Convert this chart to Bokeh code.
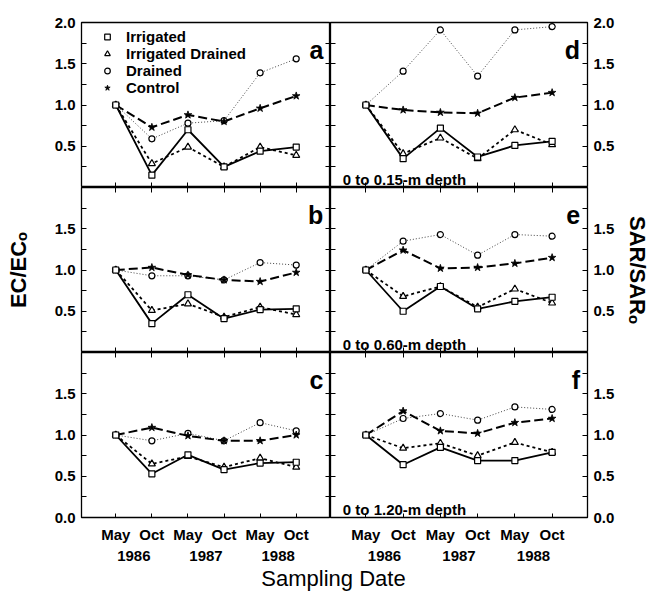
from bokeh.plotting import figure
from bokeh.layouts import gridplot, column
from bokeh.models import LinearAxis, FixedTicker, Range1d, Label, Legend, LegendItem
from bokeh.embed import file_html
from bokeh.resources import INLINE

FONT = "Liberation Sans"

# ---- data -------------------------------------------------------------
months = ["May", "Oct", "May", "Oct", "May", "Oct"]
years = ["1986", "1987", "1988"]
series = ["Irrigated", "Irrigated Drained", "Drained", "Control"]
y_ticks_top = [0.5, 1.0, 1.5, 2.0]
y_ticks_mid = [0.5, 1.0, 1.5]
y_ticks_bot = [0.0, 0.5, 1.0, 1.5]
y_minor = [0.25, 0.75, 1.25, 1.75]

# EC/ECo, 0-0.15 m (a)
a_irrigated = [1.0, 0.15, 0.70, 0.25, 0.44, 0.49]
a_irr_drained = [1.0, 0.29, 0.49, 0.25, 0.49, 0.39]
a_drained = [1.0, 0.59, 0.78, 0.81, 1.39, 1.56]
a_control = [1.0, 0.73, 0.88, 0.80, 0.96, 1.11]
# EC/ECo, 0-0.60 m (b)
b_irrigated = [1.0, 0.35, 0.70, 0.41, 0.52, 0.53]
b_irr_drained = [1.0, 0.51, 0.59, 0.43, 0.55, 0.46]
b_drained = [1.0, 0.93, 0.93, 0.88, 1.09, 1.06]
b_control = [1.0, 1.03, 0.94, 0.88, 0.86, 0.97]
# EC/ECo, 0-1.20 m (c)
c_irrigated = [1.0, 0.53, 0.76, 0.58, 0.66, 0.67]
c_irr_drained = [1.0, 0.65, 0.74, 0.61, 0.72, 0.61]
c_drained = [1.0, 0.93, 1.02, 0.93, 1.15, 1.05]
c_control = [1.0, 1.09, 0.99, 0.93, 0.93, 1.00]
# SAR/SARo, 0-0.15 m (d)
d_irrigated = [1.0, 0.35, 0.72, 0.37, 0.51, 0.56]
d_irr_drained = [1.0, 0.41, 0.60, 0.35, 0.70, 0.52]
d_drained = [1.0, 1.41, 1.91, 1.35, 1.91, 1.95]
d_control = [1.0, 0.94, 0.91, 0.90, 1.09, 1.15]
# SAR/SARo, 0-0.60 m (e)
e_irrigated = [1.0, 0.50, 0.80, 0.53, 0.62, 0.67]
e_irr_drained = [1.0, 0.68, 0.80, 0.55, 0.77, 0.60]
e_drained = [1.0, 1.35, 1.43, 1.18, 1.43, 1.41]
e_control = [1.0, 1.24, 1.02, 1.03, 1.08, 1.15]
# SAR/SARo, 0-1.20 m (f)
f_irrigated = [1.0, 0.64, 0.85, 0.69, 0.69, 0.79]
f_irr_drained = [1.0, 0.84, 0.90, 0.75, 0.91, 0.79]
f_drained = [1.0, 1.20, 1.26, 1.18, 1.34, 1.31]
f_control = [1.0, 1.29, 1.05, 1.02, 1.15, 1.20]

panels = {
    "a": [a_irrigated, a_irr_drained, a_drained, a_control],
    "b": [b_irrigated, b_irr_drained, b_drained, b_control],
    "c": [c_irrigated, c_irr_drained, c_drained, c_control],
    "d": [d_irrigated, d_irr_drained, d_drained, d_control],
    "e": [e_irrigated, e_irr_drained, e_drained, e_control],
    "f": [f_irrigated, f_irr_drained, f_drained, f_control],
}
depths = {"d": "0 to 0.15-m depth", "e": "0 to 0.60-m depth", "f": "0 to 1.20-m depth"}

styles = {
    "Irrigated": dict(dash="solid", lw=1.8, color="black", marker="square", size=6),
    "Irrigated Drained": dict(dash="3 3", lw=1.8, color="black", marker="triangle", size=7),
    "Drained": dict(dash="1 2", lw=1.0, color="#444444", marker="circle", size=6),
    "Control": dict(dash="9 4", lw=2.0, color="black", marker="star", size=8),
}
draw_order = ["Drained", "Control", "Irrigated Drained", "Irrigated"]

x = list(range(len(months)))

LEFT_W, RIGHT_W, FRAME_H = 249, 257, 165
LB, RB, TB, BB = 81, 62, 22, 47


def ghost_axis(ticks, minor=None):
    ax = LinearAxis(ticker=FixedTicker(ticks=ticks, minor_ticks=minor or []))
    ax.major_label_overrides = {t: "" for t in ticks}
    ax.major_label_text_font_size = "0px"
    ax.major_label_standoff = 0
    ax.major_tick_in = 5
    ax.major_tick_out = 0
    ax.minor_tick_in = 5
    ax.minor_tick_out = 0
    ax.major_tick_line_color = "black"
    ax.minor_tick_line_color = "black"
    ax.axis_line_color = None
    return ax


def style_label_axis(ax):
    ax.major_label_text_font = FONT
    ax.major_label_text_font_style = "bold"
    ax.major_label_text_font_size = "15px"
    ax.major_label_text_color = "black"
    ax.major_tick_line_color = "black"
    ax.minor_tick_line_color = "black"
    ax.axis_line_color = None


def make_panel(key, col, row):
    fw = LEFT_W if col == 0 else RIGHT_W
    p = figure(frame_width=fw, frame_height=FRAME_H,
               x_range=Range1d(-0.95, 5.95), y_range=Range1d(0, 2.0),
               x_axis_location=None, y_axis_location=None,
               output_backend="svg", toolbar_location=None)
    p.min_border = 0
    p.min_border_left = LB if col == 0 else 0
    p.min_border_right = RB if col == 1 else 0
    p.min_border_top = TB if row == 0 else 0
    p.min_border_bottom = BB if row == 2 else 0
    p.outline_line_color = "black"
    p.outline_line_width = 1.3
    p.xgrid.visible = False
    p.ygrid.visible = False
    p.background_fill_color = "white"
    p.border_fill_color = "white"

    yt = [y_ticks_top, y_ticks_mid, y_ticks_bot][row]
    all_y = [0.0, 0.5, 1.0, 1.5, 2.0]

    # labelled y axis on the outer side
    yax = LinearAxis(ticker=FixedTicker(ticks=yt, minor_ticks=y_minor + [v for v in all_y if v not in yt]))
    style_label_axis(yax)
    yax.major_tick_in = 5
    yax.major_tick_out = 0
    yax.minor_tick_in = 5
    yax.minor_tick_out = 0
    yax.major_label_standoff = 6
    yax.major_label_overrides = {t: f"{t:.1f}" for t in yt}
    if row == 1:
        yax.axis_label = "EC/ECₒ" if col == 0 else "SAR/SARₒ"
        yax.axis_label_text_font = FONT
        yax.axis_label_text_font_style = "bold"
        yax.axis_label_text_font_size = "22px"
        yax.axis_label_text_color = "black"
        yax.axis_label_standoff = 21 if col == 0 else 8
    p.add_layout(yax, "left" if col == 0 else "right")
    # inner ticks on the shared vertical edge
    p.add_layout(ghost_axis(all_y, y_minor), "right" if col == 0 else "left")

    # x ticks
    if row < 2:
        p.add_layout(ghost_axis(x), "below")
    if row > 0:
        p.add_layout(ghost_axis(x), "above")
    if row == 2:
        xax = LinearAxis(ticker=FixedTicker(ticks=x))
        style_label_axis(xax)
        xax.major_label_overrides = {i: m for i, m in zip(x, months)}
        xax.major_tick_in = 4
        xax.major_tick_out = 0
        xax.major_label_standoff = 8
        p.add_layout(xax, "below")
        year_pos = [x[2 * k] + 0.5 for k in range(len(years))]
        yrax = LinearAxis(ticker=FixedTicker(ticks=year_pos))
        style_label_axis(yrax)
        yrax.major_label_overrides = {v: yr for v, yr in zip(year_pos, years)}
        yrax.major_tick_in = 0
        yrax.major_tick_out = 0
        yrax.major_label_standoff = 5
        p.add_layout(yrax, "below")

    renderers = {}
    vals = dict(zip(series, panels[key]))
    for name in draw_order:
        st = styles[name]
        p.line(x, vals[name], line_color=st["color"], line_width=st["lw"], line_dash=st["dash"])
    for name in draw_order:
        st = styles[name]
        kw = dict(marker=st["marker"], size=st["size"], line_color="black", line_width=1.2)
        if st["marker"] == "star":
            kw["fill_color"] = "black"
            kw["line_width"] = 0.8
        else:
            kw["fill_color"] = "white"
        renderers[name] = p.scatter(x, vals[name], **kw)

    p.add_layout(Label(x=5.75, y=1.67, text=key, text_align="right", text_baseline="alphabetic",
                       text_font=FONT, text_font_style="bold", text_font_size="25px",
                       text_color="black"))
    if key in depths:
        p.add_layout(Label(x=-0.62, y=0.1, text=depths[key], text_align="left",
                           text_baseline="alphabetic", text_font=FONT,
                           text_font_style="bold", text_font_size="15px", text_color="black"))
    if key == "a":
        legend = Legend(items=[LegendItem(label=n, renderers=[renderers[n]]) for n in series],
                        location=(19, 91), orientation="vertical")
        legend.label_text_font = FONT
        legend.label_text_font_style = "bold"
        legend.label_text_font_size = "15px"
        legend.label_text_color = "black"
        legend.glyph_width = 14
        legend.glyph_height = 15
        legend.label_height = 15
        legend.label_standoff = 12
        legend.spacing = 0
        legend.padding = 0
        legend.margin = 0
        legend.border_line_color = None
        legend.background_fill_alpha = 0
        p.add_layout(legend, "center")
    return p


grid_rows = []
for row, (lk, rk) in enumerate([("a", "d"), ("b", "e"), ("c", "f")]):
    grid_rows.append([make_panel(lk, 0, row), make_panel(rk, 1, row)])

grid = gridplot(grid_rows, toolbar_location=None)

total_w = LB + LEFT_W + RIGHT_W + RB
lab = figure(width=total_w, height=28, x_range=Range1d(0, total_w), y_range=Range1d(0, 28),
             x_axis_location=None, y_axis_location=None,
             output_backend="svg", toolbar_location=None)
lab.min_border = 0
lab.outline_line_color = None
lab.xgrid.visible = False
lab.ygrid.visible = False
lab.add_layout(Label(x=LB + LEFT_W + 3, y=14, text="Sampling Date", text_align="center",
                     text_baseline="middle", text_font=FONT, text_font_size="22px",
                     text_color="black"))

layout = column(grid, lab)
open("out.html", "w").write(file_html(layout, INLINE))
